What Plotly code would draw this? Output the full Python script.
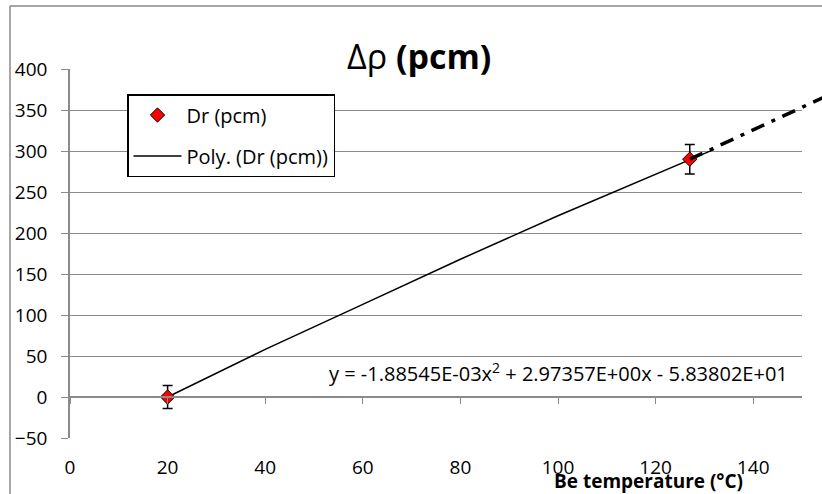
import plotly.graph_objects as go

# ---- data ----
temp_x = [20, 127]
drho_y = [0, 290]
drho_err = [14, 18]

trend_x = [20, 40, 60, 80, 100, 120, 132]
trend_y = [0, 58, 113, 168, 221, 272, 302]

extrap_x = [127, 155]
extrap_y = [290, 367]

x_ticks = [0, 20, 40, 60, 80, 100, 120, 140]
y_ticks = [-50, 0, 50, 100, 150, 200, 250, 300, 350, 400]

title_text = "Δρ <b>(pcm)</b>"
x_title = "<b>Be temperature (°C)</b>"
equation = "y = -1.88545E-03x<sup>2</sup> + 2.97357E+00x - 5.83802E+01"

FONT = "Open Sans"
GRID = "#8a8a8a"

W, H = 822, 494
ML, MR, MT, MB = 70, 0, 69, 56
plot_w = W - ML - MR          # 752
main_w = 732                  # main plot area width in px
xr = [0, 150]
yr = [-50, 400]
dom_main = main_w / plot_w

fig = go.Figure()

# trendline
fig.add_trace(go.Scatter(
    x=trend_x, y=trend_y, mode="lines", name="Poly. (Dr (pcm))",
    line=dict(color="black", width=1.5), legendrank=2, legendgroup="b",
    xaxis="x", yaxis="y"))

# dash-dot extrapolation (on a wider invisible axis pair with same scale)
fig.add_trace(go.Scatter(
    x=extrap_x, y=extrap_y, mode="lines", showlegend=False,
    line=dict(color="black", width=3.5, dash="14px,8px,4px,8px"),
    xaxis="x3", yaxis="y3"))

# data points
fig.add_trace(go.Scatter(
    x=temp_x, y=drho_y, mode="markers", name="Dr (pcm)",
    marker=dict(symbol="diamond", size=11, color="#ff0000",
                line=dict(color="black", width=1)),
    error_y=dict(type="data", array=drho_err, visible=True,
                 color="black", thickness=1.5, width=5),
    legendrank=1, legendgroup="a", xaxis="x", yaxis="y"))

# dummy trace for tick axis at y=0
fig.add_trace(go.Scatter(x=[None], y=[None], xaxis="x2", yaxis="y",
                         showlegend=False, hoverinfo="skip"))

fig.update_layout(
    width=W, height=H,
    margin=dict(l=ML, r=MR, t=MT, b=MB, autoexpand=False),
    paper_bgcolor="white",
    plot_bgcolor="rgba(0,0,0,0)",
    font=dict(family=FONT, size=19, color="black"),
    showlegend=True,
    legend=dict(
        x=(127 - ML) / plot_w, y=(H - MB - 94) / (H - MT - MB),
        xanchor="left", yanchor="top",
        bgcolor="white", bordercolor="black", borderwidth=1.5,
        font=dict(family=FONT, size=20, color="black"),
        tracegroupgap=12, itemwidth=48,
    ),
    xaxis=dict(
        domain=[0, dom_main], range=xr, tickvals=x_ticks,
        showgrid=False, zeroline=False, showline=False, ticks="",
        ticklabelstandoff=16, tickfont=dict(size=19), anchor="y",
    ),
    xaxis2=dict(
        domain=[0, dom_main], range=xr, tickvals=x_ticks, overlaying="x",
        anchor="free", position=(0 - yr[0]) / (yr[1] - yr[0]),
        showgrid=False, zeroline=False, showline=True, linecolor=GRID,
        linewidth=1.5, ticks="outside", ticklen=6, tickcolor=GRID,
        showticklabels=False,
    ),
    yaxis=dict(
        range=yr, tickvals=y_ticks, showgrid=True, gridcolor=GRID,
        gridwidth=1, zeroline=False, showline=True, linecolor=GRID,
        linewidth=1.5, ticks="outside", ticklen=7, tickcolor=GRID,
        ticklabelstandoff=10, tickfont=dict(size=19), anchor="x",
    ),
    xaxis3=dict(
        domain=[0, 1], range=[xr[0], xr[0] + (xr[1] - xr[0]) * plot_w / main_w],
        visible=False, anchor="y3",
    ),
    yaxis3=dict(domain=[0, 1], range=yr, visible=False, anchor="x3"),
)

def px_x(p):
    return (p - ML) / plot_w

def px_y(p):
    return (H - MB - p) / (H - MT - MB)

# title
fig.add_annotation(text=title_text, xref="paper", yref="paper",
                   x=px_x(419), y=px_y(56), showarrow=False,
                   font=dict(family=FONT, size=34, color="black"),
                   xanchor="center", yanchor="middle")
# equation
fig.add_annotation(text=equation, xref="paper", yref="paper",
                   x=px_x(558), y=px_y(372), showarrow=False,
                   font=dict(family=FONT, size=20, color="black"),
                   xanchor="center", yanchor="middle")
# x axis title
fig.add_annotation(text=x_title, xref="paper", yref="paper",
                   x=px_x(648), y=px_y(481), showarrow=False,
                   font=dict(family=FONT, size=19, color="black"),
                   xanchor="center", yanchor="middle")

# chart frame (left and top edges visible)
fig.add_shape(type="line", xref="paper", yref="paper",
              x0=px_x(10), x1=px_x(10), y0=px_y(6), y1=px_y(500),
              line=dict(color="#8a8a8a", width=1.5))
fig.add_shape(type="line", xref="paper", yref="paper",
              x0=px_x(10), x1=px_x(830), y0=px_y(6), y1=px_y(6),
              line=dict(color="#8a8a8a", width=1.5))

fig.write_html("out.html",
               config={"displayModeBar": False},
               post_script="document.body.style.margin='0';")
